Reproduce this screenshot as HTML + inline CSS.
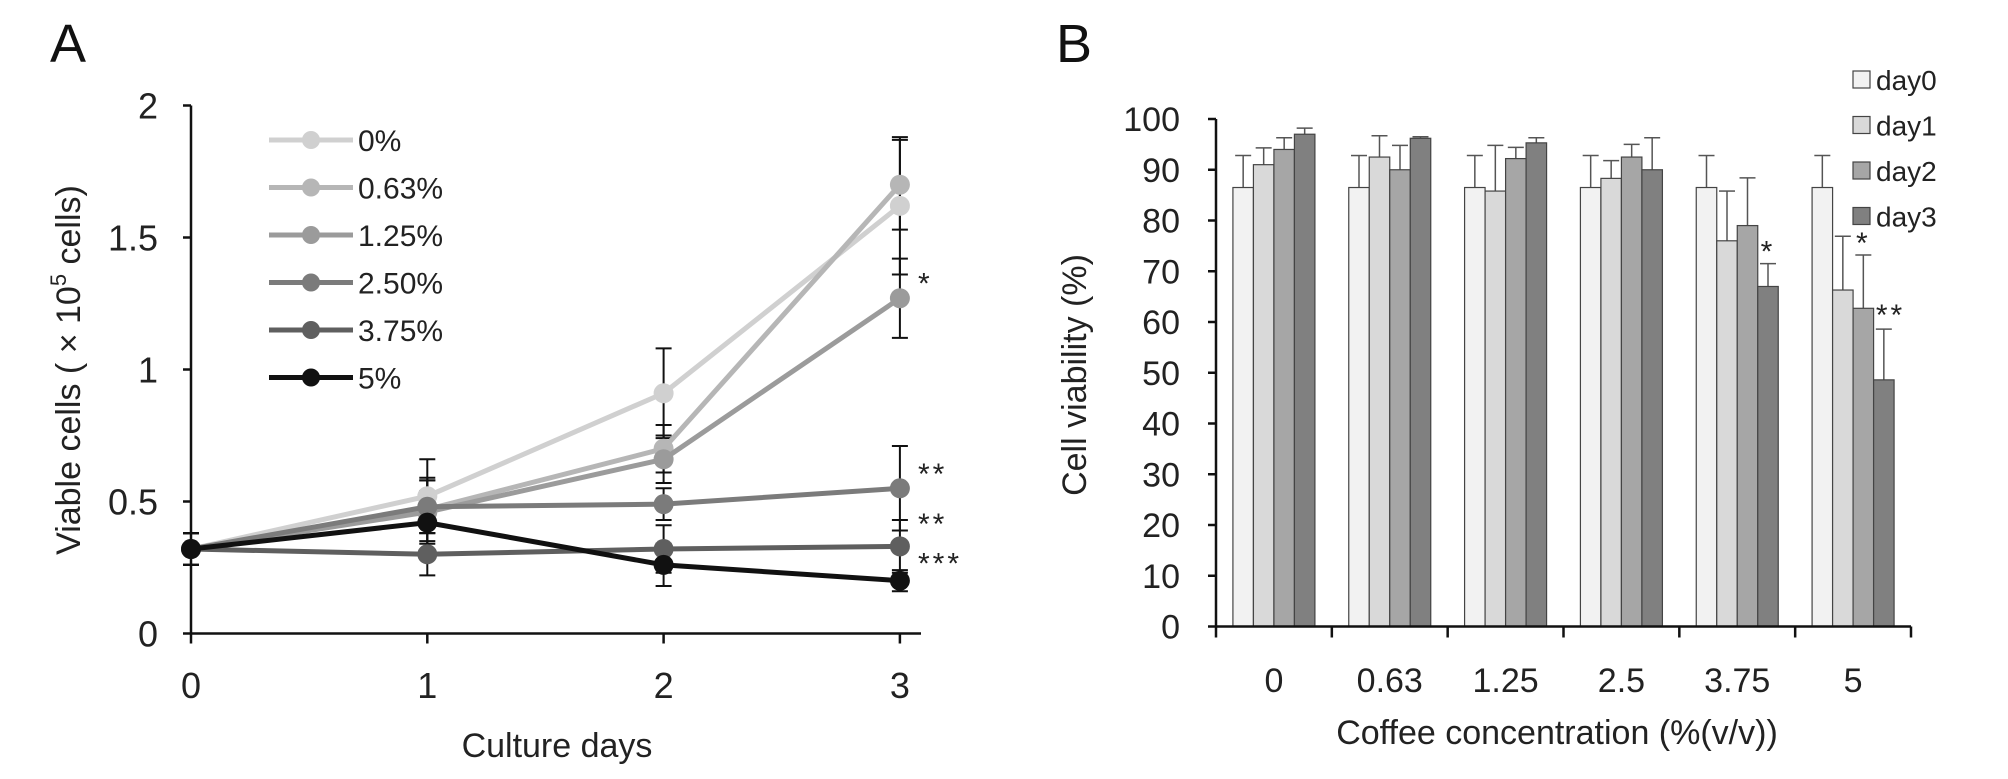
<!DOCTYPE html>
<html><head><meta charset="utf-8"><style>
html,body{margin:0;padding:0;background:#fff}
svg{display:block;font-family:"Liberation Sans",Arial,sans-serif}
</style></head><body>
<svg id="chart" width="2008" height="779" viewBox="0 0 2008 779" xmlns="http://www.w3.org/2000/svg">
<text x="50" y="62" font-size="54" fill="#111">A</text>
<text x="1056" y="62" font-size="54" fill="#111">B</text>
<g id="chartA"></g>
<g id="chartB"></g>
</svg>
<script>
// ---- Panel A data ----
const daysA = [0, 1, 2, 3];
const seriesNamesA = ["0%", "0.63%", "1.25%", "2.50%", "3.75%", "5%"];
const val0 = [0.32, 0.52, 0.91, 1.62];
const val063 = [0.32, 0.47, 0.70, 1.70];
const val125 = [0.32, 0.46, 0.66, 1.27];
const val250 = [0.32, 0.48, 0.49, 0.55];
const val375 = [0.32, 0.30, 0.32, 0.33];
const val5 = [0.32, 0.42, 0.26, 0.20];
const err0 = [0.06, 0.14, 0.17, 0.26];
const err063 = [0.06, 0.12, 0.09, 0.17];
const err125 = [0.06, 0.12, 0.09, 0.15];
const err250 = [0.06, 0.10, 0.06, 0.16];
const err375 = [0.06, 0.08, 0.09, 0.10];
const err5 = [0.06, 0.12, 0.08, 0.04];
const ticksA = [0, 0.5, 1, 1.5, 2];
const tickLabelsA = ["0", "0.5", "1", "1.5", "2"];
const starsA = ["*", "**", "**", "***"];
const starValsA = [1.34, 0.62, 0.43, 0.28];
// ---- Panel B data ----
const concB = ["0", "0.63", "1.25", "2.5", "3.75", "5"];
const dayNamesB = ["day0", "day1", "day2", "day3"];
const day0 = [86.5, 86.5, 86.5, 86.5, 86.5, 86.5];
const day1 = [91, 92.5, 85.8, 88.3, 76, 66.3];
const day2 = [94, 90, 92.2, 92.5, 79, 62.7];
const day3 = [97, 96.2, 95.3, 90, 67, 48.6];
const e0 = [6.3, 6.3, 6.3, 6.3, 6.3, 6.3];
const e1 = [3.3, 4.2, 9, 3.5, 9.8, 10.6];
const e2 = [2.3, 4.8, 2.2, 2.5, 9.4, 10.5];
const e3 = [1.2, 0.3, 1, 6.3, 4.5, 10];
const ticksB = [0,10,20,30,40,50,60,70,80,90,100];

const NS = "http://www.w3.org/2000/svg";
function mk(parent, tag, attrs, text){
  const el = document.createElementNS(NS, tag);
  for (const k in attrs) el.setAttribute(k, attrs[k]);
  if (text !== undefined) el.textContent = text;
  parent.appendChild(el);
  return el;
}
// ---------- Panel A ----------
const gA = document.getElementById("chartA");
const xA = d => 191 + d * 236.3;
const yA = v => 633.5 - v * 264;
const colorsA = ["#d0d0d0", "#b6b6b6", "#9b9b9b", "#7b7b7b", "#5f5f5f", "#111111"];
const valsA = [val0, val063, val125, val250, val375, val5];
const errsA = [err0, err063, err125, err250, err375, err5];
let e;
e = mk(gA, "line", {x1:191, y1:yA(2), x2:191, y2:yA(0), stroke:"#111", "stroke-width":2.5});


e = mk(gA, "line", {x1:191, y1:yA(0), x2:921, y2:yA(0), stroke:"#111", "stroke-width":2.5});


ticksA.forEach((t, i) => {
  mk(gA, "line", {x1:183, y1:yA(t), x2:191, y2:yA(t), stroke:"#111", "stroke-width":2.5});
  e = mk(gA, "text", {x:158, y:yA(t)+13, "font-size":36, "text-anchor":"end", fill:"#222"}, tickLabelsA[i]);
  
  
});
daysA.forEach(d => {
  mk(gA, "line", {x1:xA(d), y1:yA(0), x2:xA(d), y2:yA(0)+10, stroke:"#111", "stroke-width":2.5});
  e = mk(gA, "text", {x:xA(d), y:698, "font-size":36, "text-anchor":"middle", fill:"#222"}, String(d));
  
  
});
e = mk(gA, "text", {x:557, y:757, "font-size":34, "text-anchor":"middle", fill:"#222"}, "Culture days");


e = mk(gA, "text", {x:0, y:0, "font-size":34, "text-anchor":"middle", fill:"#222", transform:"translate(80,370) rotate(-90)"});


mk(e, "tspan", {}, "Viable cells ( × 10");
mk(e, "tspan", {dy:-14, "font-size":22}, "5");
mk(e, "tspan", {dy:14}, " cells)");
valsA.forEach((vals, si) => {
  vals.forEach((v, i) => {
    const er = errsA[si][i], x = xA(daysA[i]);
    mk(gA, "line", {x1:x, y1:yA(v+er), x2:x, y2:yA(v-er), stroke:"#111", "stroke-width":2});
    mk(gA, "line", {x1:x-8, y1:yA(v+er), x2:x+8, y2:yA(v+er), stroke:"#111", "stroke-width":2});
    mk(gA, "line", {x1:x-8, y1:yA(v-er), x2:x+8, y2:yA(v-er), stroke:"#111", "stroke-width":2});
  });
});
valsA.forEach((vals, si) => {
  const pts = vals.map((v, i) => xA(daysA[i]) + "," + yA(v)).join(" ");
  e = mk(gA, "polyline", {points:pts, fill:"none", stroke:colorsA[si], "stroke-width":5});
  
  
  vals.forEach((v, i) => {
    e = mk(gA, "circle", {cx:xA(daysA[i]), cy:yA(v), r:10, fill:colorsA[si]});
    
    
  });
});
starsA.forEach((s, i) => {
  e = mk(gA, "text", {x:918, y:yA(starValsA[i])+14, "font-size":30, fill:"#222", "letter-spacing":3}, s);
  
  
});
seriesNamesA.forEach((n, i) => {
  const y = 140 + i * 47.5;
  const lg = mk(gA, "g", {});
  
  
  mk(lg, "line", {x1:269, y1:y, x2:353, y2:y, stroke:colorsA[i], "stroke-width":5});
  mk(lg, "circle", {cx:311, cy:y, r:9, fill:colorsA[i]});
  mk(lg, "text", {x:358, y:y+11, "font-size":30, fill:"#222"}, n);
});
// ---------- Panel B ----------
const gB = document.getElementById("chartB");
const x0B = 1216, x1B = 1911;
const gw = (x1B - x0B) / concB.length;
const yB = v => 626.5 - v * 5.075;
const barW = 20.5;
const colorsB = ["#f2f2f2", "#d9d9d9", "#a6a6a6", "#808080"];
const valsB = [day0, day1, day2, day3];
const errsB = [e0, e1, e2, e3];
e = mk(gB, "line", {x1:x0B, y1:yB(100), x2:x0B, y2:yB(0)+11, stroke:"#111", "stroke-width":2.5});


ticksB.forEach(t => {
  mk(gB, "line", {x1:x0B-8, y1:yB(t), x2:x0B, y2:yB(t), stroke:"#111", "stroke-width":2.5});
  e = mk(gB, "text", {x:1180, y:yB(t)+12, "font-size":34, "text-anchor":"end", fill:"#222"}, String(t));
  
  
});
concB.forEach((c, gi) => {
  const gx = x0B + gi * gw;
  mk(gB, "line", {x1:gx+gw, y1:yB(0), x2:gx+gw, y2:yB(0)+11, stroke:"#111", "stroke-width":2.5});
  e = mk(gB, "text", {x:gx+gw/2, y:692, "font-size":34, "text-anchor":"middle", fill:"#222"}, c);
  
  
  valsB.forEach((vals, di) => {
    const bx = gx + gw/2 - 2*barW + di*barW;
    const v = vals[gi], er = errsB[di][gi];
    mk(gB, "line", {x1:bx+barW/2, y1:yB(v+er), x2:bx+barW/2, y2:yB(v), stroke:"#555", "stroke-width":1.5});
    mk(gB, "line", {x1:bx+barW/2-8, y1:yB(v+er), x2:bx+barW/2+8, y2:yB(v+er), stroke:"#555", "stroke-width":1.5});
    e = mk(gB, "rect", {x:bx, y:yB(v), width:barW, height:yB(0)-yB(v), fill:colorsB[di], stroke:"#444", "stroke-width":1.2});
    
    
  });
});
e = mk(gB, "line", {x1:x0B, y1:yB(0), x2:x1B, y2:yB(0), stroke:"#111", "stroke-width":2.5});


e = mk(gB, "text", {x:1557, y:744, "font-size":34, "text-anchor":"middle", fill:"#222"}, "Coffee concentration (%(v/v))");


e = mk(gB, "text", {x:0, y:0, "font-size":34, "text-anchor":"middle", fill:"#222", transform:"translate(1086,375) rotate(-90)"}, "Cell viability (%)");


// significance stars: [group, day, text, dx from bar center, dy from error top]
[[4,3,"*",0,-2],[5,2,"*",0,-2],[5,3,"**",-8,-4]].forEach(s => {
  const bx = x0B + s[0]*gw + gw/2 - 2*barW + s[1]*barW + barW/2;
  const vv = valsB[s[1]][s[0]] + errsB[s[1]][s[0]];
  e = mk(gB, "text", {x:bx + s[3], y:yB(vv) + s[4], "font-size":30, fill:"#222", "letter-spacing":3, "text-anchor": s[3] ? "start" : "middle"}, s[2]);
  
  
});
dayNamesB.forEach((n, i) => {
  const y = 80 + i * 45.5;
  const lg = mk(gB, "g", {});
  
  
  mk(lg, "rect", {x:1853, y:y-9, width:17, height:17, fill:colorsB[i], stroke:"#444", "stroke-width":1.2});
  mk(lg, "text", {x:1876, y:y+10, "font-size":28, fill:"#222"}, n);
});
</script>
</body></html>
